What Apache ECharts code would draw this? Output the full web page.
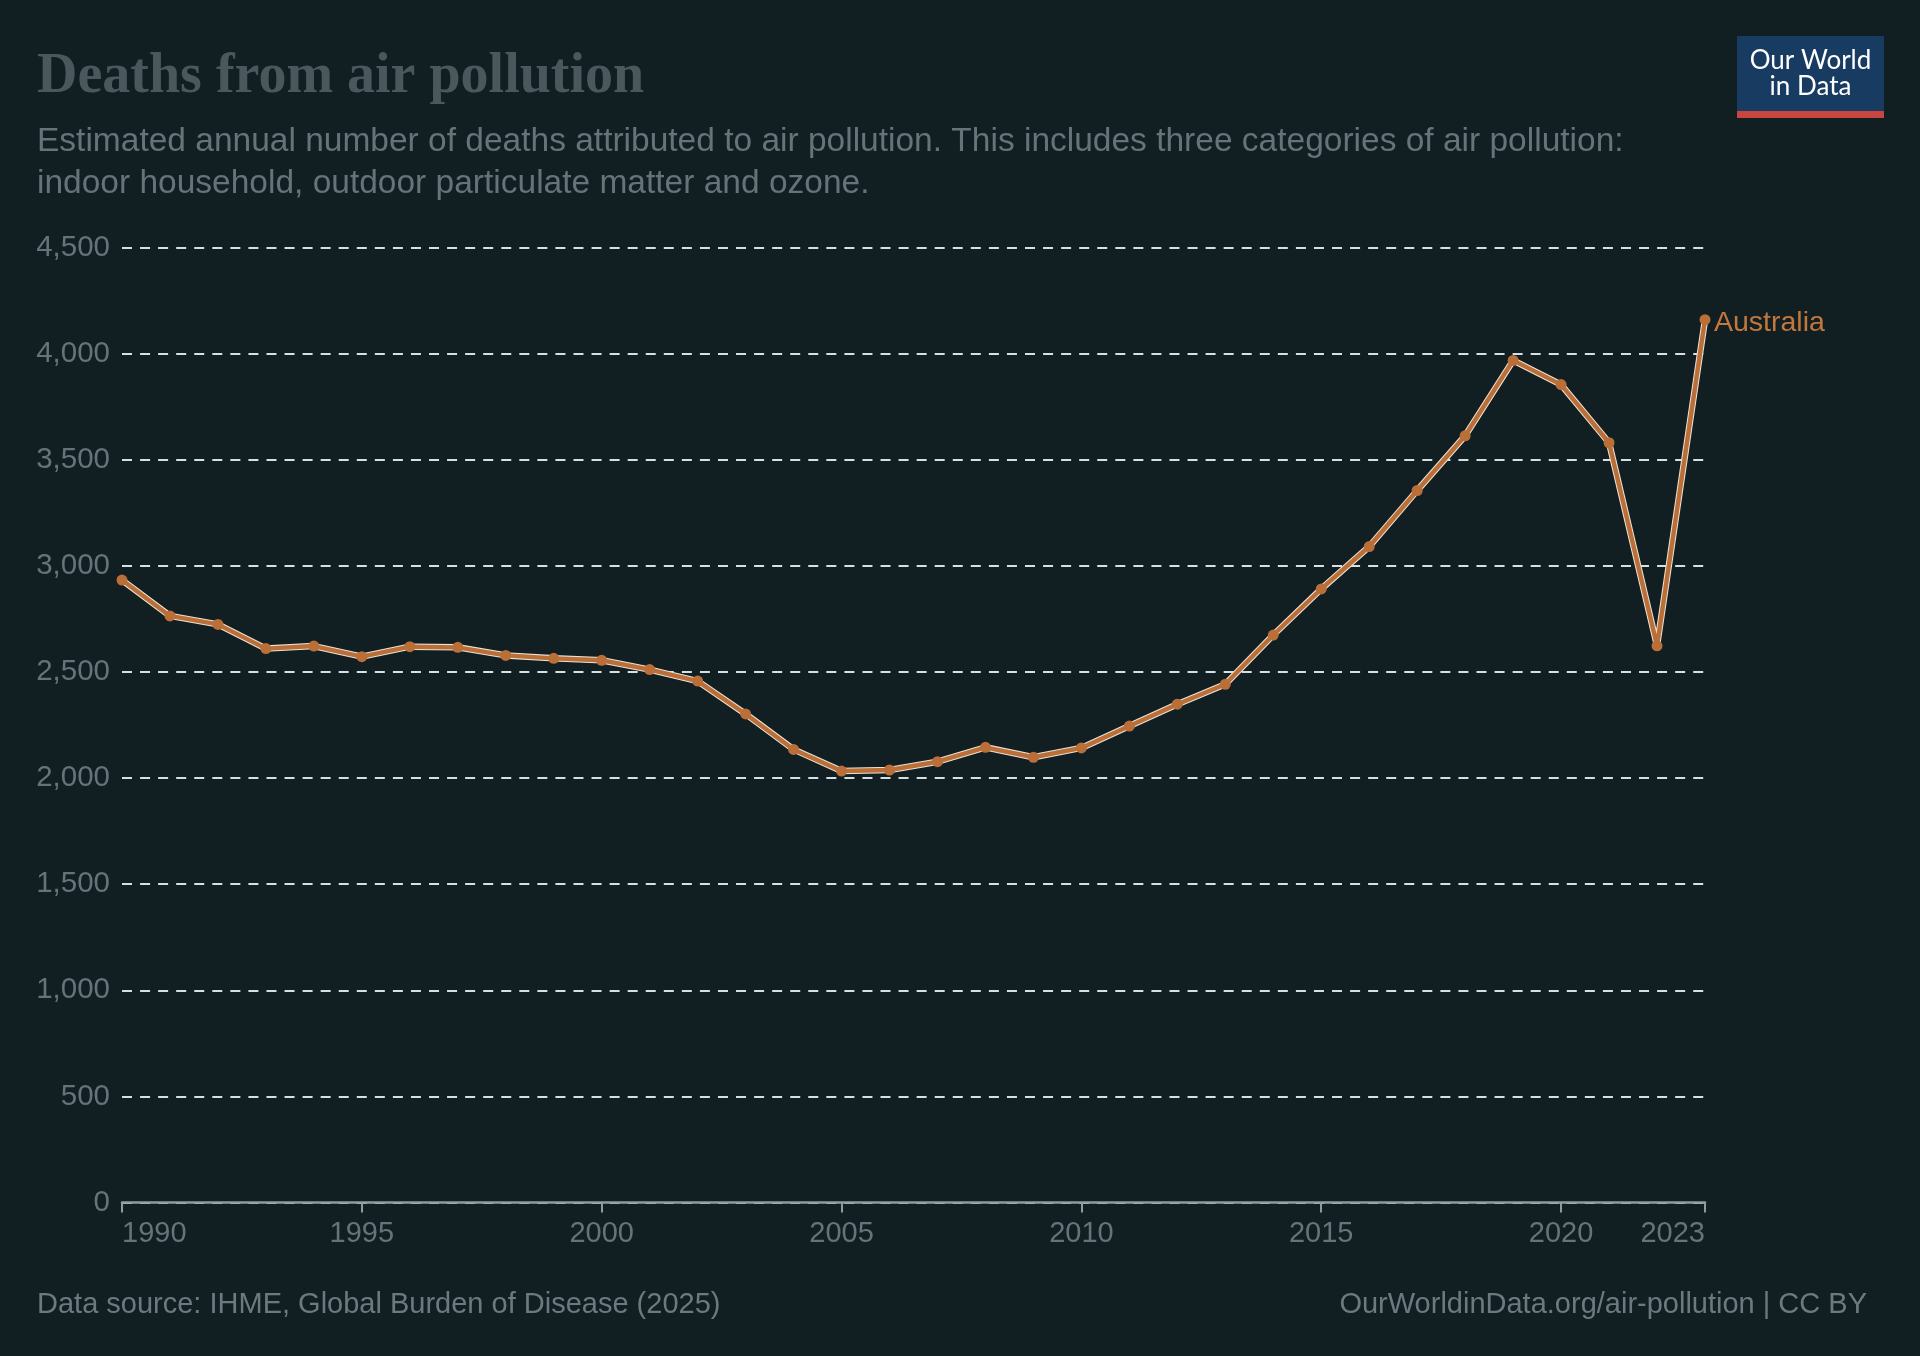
<!DOCTYPE html>
<html>
<head>
<meta charset="utf-8">
<script src="https://cdn.jsdelivr.net/npm/echarts@6/dist/echarts.min.js"></script>
<style>
html,body{margin:0;padding:0;background:#111e22;}
#chart{width:1920px;height:1356px;}
</style>
</head>
<body>
<div id="chart"></div>
<script>
// ---- Data ----
const years = [1990,1991,1992,1993,1994,1995,1996,1997,1998,1999,2000,2001,2002,2003,2004,2005,2006,2007,2008,2009,2010,2011,2012,2013,2014,2015,2016,2017,2018,2019,2020,2021,2022,2023];
const deaths = [2933,2764,2724,2610,2622,2572,2619,2616,2578,2564,2555,2511,2457,2302,2135,2033,2038,2077,2145,2098,2142,2245,2348,2442,2674,2891,3091,3355,3613,3968,3854,3580,2623,4160];
const xTickValues = [1990,1995,2000,2005,2010,2015,2020,2023];
const yTickValues = [0,500,1000,1500,2000,2500,3000,3500,4000,4500];
const seriesName = 'Australia';
const titleText = 'Deaths from air pollution';
const subtitleLines = [
  'Estimated annual number of deaths attributed to air pollution. This includes three categories of air pollution:',
  'indoor household, outdoor particulate matter and ozone.'
];
const sourceText = 'Data source: IHME, Global Burden of Disease (2025)';
const creditText = 'OurWorldinData.org/air-pollution | CC BY';

const points = years.map((y, i) => [y, deaths[i]]);

const sans = '"Liberation Sans", Arial, Helvetica, sans-serif';
const labelColor = '#65737a';
const lineColor = '#b96f37';

const chart = echarts.init(document.getElementById('chart'), null, {renderer: 'canvas'});
chart.setOption({
  backgroundColor: '#111e22',
  animation: false,
  grid: {left: 122, right: 215, top: 247.5, bottom: 153.5, containLabel: false},
  xAxis: {
    type: 'value',
    min: 1990,
    max: 2023,
    splitLine: {show: false},
    axisLine: {show: true, lineStyle: {color: '#8d9ca1', width: 2.5}},
    axisTick: {show: true, customValues: xTickValues, length: 10, lineStyle: {color: '#8d9ca1', width: 2}},
    axisLabel: {
      customValues: xTickValues,
      color: labelColor, fontFamily: sans, fontSize: 29, margin: 17,
      alignMinLabel: 'left', alignMaxLabel: 'right',
      formatter: v => String(v)
    }
  },
  yAxis: {
    type: 'value',
    min: 0,
    max: 4500,
    interval: 500,
    axisLine: {show: false},
    axisTick: {show: false},
    axisLabel: {
      color: labelColor, fontFamily: sans, fontSize: 29.5, margin: 12,
      formatter: v => v.toLocaleString('en-US')
    },
    splitLine: {show: true, lineStyle: {color: '#d5e0e5', width: 2, type: [10, 8.06]}}
  },
  series: [
    {
      type: 'line',
      data: points,
      silent: true,
      showSymbol: false,
      symbol: 'none',
      lineStyle: {color: '#ece0d3', width: 6.5},
      z: 3
    },
    {
      name: seriesName,
      type: 'line',
      data: points,
      symbol: 'circle',
      symbolSize: 11,
      showAllSymbol: true,
      itemStyle: {color: lineColor},
      lineStyle: {color: lineColor, width: 4.4},
      z: 4,
      endLabel: {
        show: true,
        formatter: seriesName,
        color: '#c2773c',
        fontFamily: sans,
        fontSize: 28.5,
        distance: 9,
        offset: [0, 3]
      }
    }
  ],
  graphic: [
    {type: 'text', left: 37, top: 50, style: {text: titleText, font: 'bold 56px "Liberation Serif", "Times New Roman", serif', fill: '#4a575c'}},
    {type: 'text', x: 37, y: 142, style: {text: subtitleLines[0], fontFamily: sans, fontSize: 33.5, fill: '#65737a', verticalAlign: 'middle'}},
    {type: 'text', x: 37, y: 184, style: {text: subtitleLines[1], fontFamily: sans, fontSize: 33.5, fill: '#65737a', verticalAlign: 'middle'}},
    {type: 'text', x: 37, y: 1304.5, style: {text: sourceText, fontFamily: sans, fontSize: 29, fill: '#6c7a80', verticalAlign: 'middle'}},
    {type: 'text', x: 1867, y: 1304.5, style: {text: creditText, fontFamily: sans, fontSize: 29, fill: '#6c7a80', align: 'right', verticalAlign: 'middle'}},
    {type: 'rect', shape: {x: 1737, y: 36, width: 147, height: 75}, style: {fill: '#183b62'}},
    {type: 'rect', shape: {x: 1737, y: 111, width: 147, height: 7}, style: {fill: '#c9463f'}},
    {type: 'text', x: 1810.5, y: 60.5, style: {text: 'Our World', fontFamily: 'Lato, sans-serif', fontSize: 26, fill: '#ffffff', align: 'center', verticalAlign: 'middle'}},
    {type: 'text', x: 1810.5, y: 87, style: {text: 'in Data', fontFamily: 'Lato, sans-serif', fontSize: 26, fill: '#ffffff', align: 'center', verticalAlign: 'middle'}}
  ]
});
</script>
</body>
</html>
